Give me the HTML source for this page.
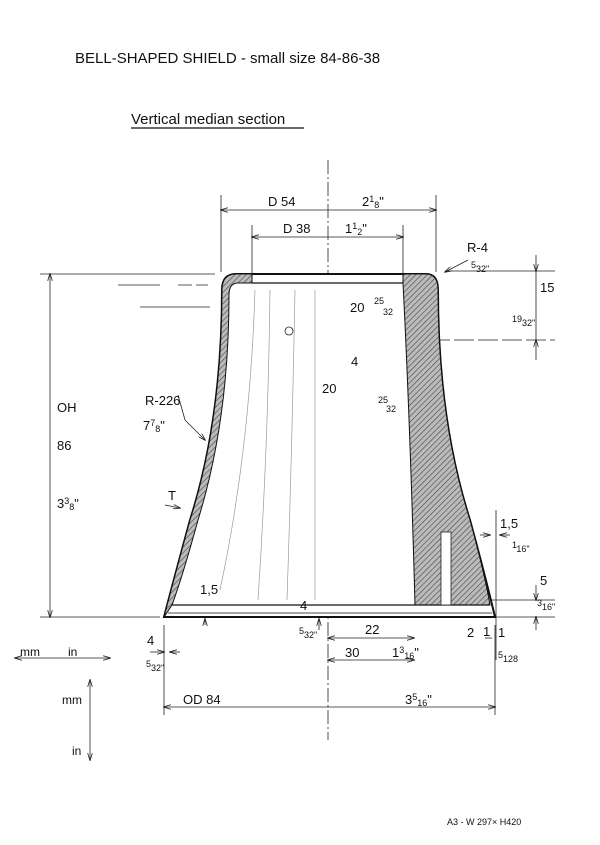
<!DOCTYPE html>
<html><head><meta charset="utf-8"><style>
html,body{margin:0;padding:0;background:#fff}
svg{display:block}
text{font-family:"Liberation Sans",sans-serif;fill:#111}
</style></head><body>
<svg width="600" height="845" viewBox="0 0 600 845" xmlns="http://www.w3.org/2000/svg">
<defs>
<pattern id="h" width="4" height="4" patternUnits="userSpaceOnUse" patternTransform="rotate(45)">
<rect width="4" height="4" fill="#bbb"/><line x1="0" y1="0" x2="0" y2="4" stroke="#444" stroke-width="1.2"/>
</pattern>
<marker id="a" markerWidth="10" markerHeight="6" refX="9" refY="3" orient="auto-start-reverse"><path d="M0,0 L10,3 L0,6" fill="none" stroke="#222" stroke-width="1"/></marker>
</defs>
<text x="75" y="63" font-size="15">BELL-SHAPED  SHIELD   -   small size  84-86-38</text>
<text x="131" y="124" font-size="15">Vertical  median  section</text>
<line x1="131" y1="128" x2="304" y2="128" stroke="#111" stroke-width="1.2"/>

<g stroke="#222" stroke-width="0.8" fill="none">
<!-- centerline -->
<line x1="328" y1="160" x2="328" y2="740" stroke-dasharray="14,3,2,3"/>
<!-- extension lines -->
<line x1="221" y1="195" x2="221" y2="272"/><line x1="436" y1="195" x2="436" y2="272"/>
<line x1="252" y1="225" x2="252" y2="283"/><line x1="403" y1="225" x2="403" y2="283"/>
<line x1="40" y1="274" x2="215" y2="274"/><line x1="40" y1="617" x2="160" y2="617"/>
<line x1="445" y1="271" x2="555" y2="271"/><line x1="430" y1="340" x2="555" y2="340" stroke-dasharray="20,4"/>
<line x1="164" y1="625" x2="164" y2="715"/><line x1="495" y1="625" x2="495" y2="715"/>
<line x1="496" y1="510" x2="496" y2="660"/><line x1="490" y1="600" x2="555" y2="600"/><line x1="490" y1="617" x2="555" y2="617"/>
<!-- dims -->
<line x1="221" y1="210" x2="436" y2="210" marker-start="url(#a)" marker-end="url(#a)"/>
<line x1="252" y1="237" x2="403" y2="237" marker-start="url(#a)" marker-end="url(#a)"/>
<line x1="50" y1="274" x2="50" y2="617" marker-start="url(#a)" marker-end="url(#a)"/>
<line x1="164" y1="707" x2="495" y2="707" marker-start="url(#a)" marker-end="url(#a)"/>
<line x1="328" y1="638" x2="414" y2="638" marker-start="url(#a)" marker-end="url(#a)"/>
<line x1="328" y1="660" x2="414" y2="660" marker-start="url(#a)" marker-end="url(#a)"/>
<line x1="328" y1="398" x2="403" y2="398" marker-start="url(#a)" marker-end="url(#a)"/>
<line x1="370" y1="276" x2="370" y2="353" marker-start="url(#a)" marker-end="url(#a)"/>
<line x1="370" y1="370" x2="370" y2="385" marker-start="url(#a)"/>
<line x1="536" y1="255" x2="536" y2="271" marker-end="url(#a)"/>
<line x1="536" y1="340" x2="536" y2="360" marker-start="url(#a)"/>
<line x1="536" y1="271" x2="536" y2="340"/>
<line x1="536" y1="585" x2="536" y2="600" marker-end="url(#a)"/>
<line x1="536" y1="617" x2="536" y2="630" marker-start="url(#a)"/>
<line x1="480" y1="535" x2="490" y2="535" marker-end="url(#a)"/><line x1="510" y1="535" x2="500" y2="535" marker-end="url(#a)"/>
<line x1="150" y1="652" x2="164" y2="652" marker-end="url(#a)"/><line x1="180" y1="652" x2="170" y2="652" marker-end="url(#a)"/>
<line x1="445" y1="272" x2="468" y2="260" marker-start="url(#a)"/>
<line x1="178" y1="395" x2="185" y2="420"/><line x1="185" y1="420" x2="205" y2="440" marker-end="url(#a)"/>
<line x1="165" y1="505" x2="180" y2="508" marker-end="url(#a)"/>
<line x1="205" y1="598" x2="205" y2="604" marker-end="url(#a)"/><line x1="205" y1="625" x2="205" y2="619" marker-end="url(#a)"/>
<line x1="319" y1="590" x2="319" y2="604" marker-end="url(#a)"/><line x1="319" y1="630" x2="319" y2="619" marker-end="url(#a)"/>
<line x1="15" y1="658" x2="110" y2="658" marker-start="url(#a)" marker-end="url(#a)"/>
<line x1="90" y1="680" x2="90" y2="760" marker-start="url(#a)" marker-end="url(#a)"/>
<line x1="485" y1="638" x2="492" y2="638"/>
<line x1="178" y1="285" x2="208" y2="285" stroke-dasharray="14,4"/>
<line x1="118" y1="285" x2="160" y2="285"/>
<line x1="140" y1="307" x2="210" y2="307"/>
</g>

<!-- bell body -->
<path d="M222,290 Q222,274 236,274 L426,274 Q438,274 438,290 Q438,420 470,520 Q485,575 495,617 L164,617 Q175,575 190,520 Q222,420 222,290 Z" fill="#fff" stroke="#111" stroke-width="2"/>
<!-- left thin wall hatch -->
<path d="M222,290 Q222,274 236,274 L252,274 L252,283 L238,283 Q229,283 229,295 Q229,420 198,520 Q183,575 172,605 L164,617 Q175,575 190,520 Q222,420 222,290 Z" fill="url(#h)" stroke="#111" stroke-width="1"/>
<!-- right hatched block -->
<path d="M403,274 L426,274 Q438,274 438,290 Q438,420 470,520 Q485,575 490,605 L415,605 Q410,420 403,283 Z" fill="url(#h)" stroke="#111" stroke-width="1"/>
<line x1="252" y1="283" x2="403" y2="283" stroke="#111" stroke-width="1.2"/>
<line x1="172" y1="605" x2="490" y2="605" stroke="#111" stroke-width="1.2"/>
<line x1="168" y1="613" x2="492" y2="613" stroke="#111" stroke-width="0.8"/>
<rect x="441" y="532" width="10" height="73" fill="#fff" stroke="#222" stroke-width="0.8"/>
<g stroke="#999" stroke-width="0.7" fill="none">
<path d="M255,290 Q250,450 220,590"/><path d="M270,290 Q268,450 258,600"/><path d="M295,290 Q292,450 287,600"/><path d="M315,290 L315,600"/>
</g>
<circle cx="289" cy="331" r="4" fill="none" stroke="#222" stroke-width="0.8"/>

<g font-size="13">
<text x="268" y="206">D 54</text><text x="362" y="206">2<tspan font-size="9" dy="-4">1</tspan><tspan font-size="9" dy="6">8</tspan><tspan dy="-2">"</tspan></text>
<text x="283" y="233">D 38</text><text x="345" y="233">1<tspan font-size="9" dy="-4">1</tspan><tspan font-size="9" dy="6">2</tspan><tspan dy="-2">"</tspan></text>
<text x="57" y="412">OH</text><text x="57" y="450">86</text>
<text x="57" y="508">3<tspan font-size="9" dy="-4">3</tspan><tspan font-size="9" dy="6">8</tspan><tspan dy="-2">"</tspan></text>
<text x="467" y="252">R-4</text>
<text x="540" y="292">15</text>
<text x="350" y="312">20</text><text x="374" y="304" font-size="9">25</text><text x="383" y="315" font-size="9">32</text>
<text x="351" y="366">4</text>
<text x="322" y="393">20</text><text x="378" y="403" font-size="9">25</text><text x="386" y="412" font-size="9">32</text>
<text x="145" y="405">R-226</text>
<text x="143" y="430">7<tspan font-size="9" dy="-4">7</tspan><tspan font-size="9" dy="6">8</tspan><tspan dy="-2">"</tspan></text>
<text x="168" y="500">T</text>
<text x="500" y="528">1,5</text>
<text x="540" y="585">5</text>
<text x="200" y="594">1,5</text>
<text x="300" y="610">4</text>
<text x="365" y="634">22</text>
<text x="345" y="657">30</text>
<text x="392" y="657">1<tspan font-size="9" dy="-4">3</tspan><tspan font-size="9" dy="6">16</tspan><tspan dy="-2">"</tspan></text>
<text x="467" y="637">2</text><text x="483" y="636">1</text><text x="498" y="637">1</text>
<text x="147" y="645">4</text>
<text x="183" y="704">OD  84</text>
<text x="405" y="704">3<tspan font-size="9" dy="-4">5</tspan><tspan font-size="9" dy="6">16</tspan><tspan dy="-2">"</tspan></text>
<text x="20" y="656" font-size="12">mm</text><text x="68" y="656" font-size="12">in</text>
<text x="62" y="704" font-size="12">mm</text><text x="72" y="755" font-size="12">in</text>
</g>
<g font-size="9">
<text x="471" y="268">5<tspan dy="4">32</tspan>"</text>
<text x="512" y="322">19<tspan dy="4">32</tspan>"</text>
<text x="512" y="548">1<tspan dy="4">16</tspan>"</text>
<text x="537" y="606">3<tspan dy="4">16</tspan>"</text>
<text x="299" y="634">5<tspan dy="4">32</tspan>"</text>
<text x="146" y="667">5<tspan dy="4">32</tspan>"</text>
<text x="498" y="658">5<tspan dy="4">128</tspan></text>
<text x="447" y="825">A3 - W 297× H420</text>
</g>
</svg>
</body></html>
